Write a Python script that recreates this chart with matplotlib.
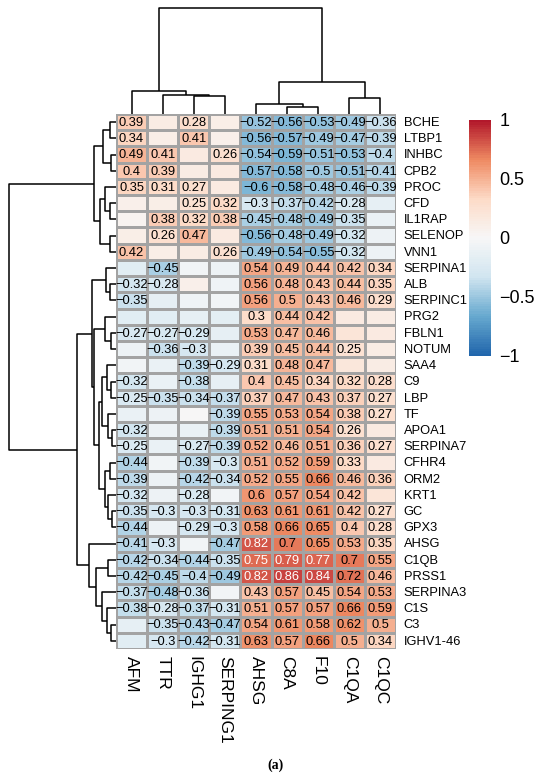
import matplotlib
matplotlib.use("Agg")
import matplotlib.pyplot as plt
import numpy as np
from matplotlib.colors import LinearSegmentedColormap, Normalize
from matplotlib.cm import ScalarMappable

plt.rcParams["font.family"] = ["Liberation Sans", "DejaVu Sans"]

# proteins (rows) and correlated proteins (columns)
row_labels = [
  "BCHE", "LTBP1", "INHBC", "CPB2", "PROC", "CFD", "IL1RAP", "SELENOP", "VNN1",
  "SERPINA1", "ALB", "SERPINC1", "PRG2", "FBLN1", "NOTUM", "SAA4", "C9", "LBP",
  "TF", "APOA1", "SERPINA7", "CFHR4", "ORM2", "KRT1", "GC", "GPX3",
  "AHSG", "C1QB", "PRSS1", "SERPINA3", "C1S", "C3", "IGHV1-46",
]
col_labels = ["AFM", "TTR", "IGHG1", "SERPING1", "AHSG", "C8A", "F10", "C1QA", "C1QC"]

# correlation values per column (blank cells in the figure are |r| < 0.25)
afm = [0.39, 0.34, 0.49, 0.4, 0.35, 0.08, 0.05, 0.1, 0.42,
       -0.2, -0.32, -0.35, -0.2, -0.27, -0.1, -0.05, -0.32, -0.25,
       -0.12, -0.32, -0.25, -0.44, -0.39, -0.32, -0.35, -0.44,
       -0.41, -0.42, -0.42, -0.37, -0.38, -0.15, -0.2]
ttr = [0.12, 0.1, 0.41, 0.39, 0.31, 0.1, 0.38, 0.26, 0.1,
       -0.45, -0.28, -0.15, -0.2, -0.27, -0.36, -0.12, -0.12, -0.35,
       -0.1, -0.1, -0.12, -0.05, -0.1, -0.1, -0.3, -0.1,
       -0.3, -0.34, -0.45, -0.48, -0.28, -0.35, -0.3]
ighg1 = [0.28, 0.41, 0.15, 0.12, 0.27, 0.25, 0.32, 0.47, 0.12,
         -0.05, 0.08, -0.08, -0.15, -0.29, -0.3, -0.39, -0.38, -0.34,
         0.0, -0.12, -0.27, -0.39, -0.42, -0.28, -0.3, -0.29,
         -0.05, -0.44, -0.4, -0.36, -0.37, -0.43, -0.42]
serping1 = [0.1, 0.08, 0.26, 0.15, 0.14, 0.32, 0.38, 0.15, 0.26,
            -0.1, -0.08, -0.05, -0.18, -0.15, -0.12, -0.29, -0.15, -0.37,
            -0.39, -0.39, -0.39, -0.3, -0.34, -0.05, -0.31, -0.3,
            -0.47, -0.35, -0.49, -0.05, -0.31, -0.47, -0.31]
ahsg = [-0.52, -0.56, -0.54, -0.57, -0.6, -0.3, -0.45, -0.56, -0.49,
        0.54, 0.56, 0.56, 0.3, 0.53, 0.39, 0.31, 0.4, 0.37,
        0.55, 0.51, 0.52, 0.51, 0.52, 0.6, 0.63, 0.58,
        0.82, 0.75, 0.82, 0.43, 0.51, 0.54, 0.63]
c8a = [-0.56, -0.57, -0.59, -0.58, -0.58, -0.37, -0.48, -0.48, -0.54,
       0.49, 0.48, 0.5, 0.44, 0.47, 0.45, 0.48, 0.45, 0.47,
       0.53, 0.51, 0.46, 0.52, 0.55, 0.57, 0.61, 0.66,
       0.7, 0.79, 0.86, 0.57, 0.57, 0.61, 0.57]
f10 = [-0.53, -0.49, -0.51, -0.5, -0.48, -0.42, -0.49, -0.49, -0.55,
       0.44, 0.43, 0.43, 0.42, 0.46, 0.44, 0.47, 0.34, 0.43,
       0.54, 0.54, 0.51, 0.59, 0.66, 0.54, 0.61, 0.65,
       0.65, 0.77, 0.84, 0.45, 0.57, 0.58, 0.66]
c1qa = [-0.49, -0.47, -0.53, -0.51, -0.46, -0.28, -0.35, -0.32, -0.32,
        0.42, 0.44, 0.46, 0.15, 0.2, 0.25, 0.18, 0.32, 0.37,
        0.38, 0.26, 0.36, 0.33, 0.46, 0.42, 0.42, 0.4,
        0.53, 0.7, 0.72, 0.54, 0.66, 0.62, 0.5]
c1qc = [-0.36, -0.39, -0.4, -0.41, -0.39, -0.15, -0.12, -0.1, -0.1,
        0.34, 0.35, 0.29, 0.12, 0.15, 0.12, 0.12, 0.28, 0.27,
        0.27, 0.15, 0.27, 0.15, 0.36, 0.2, 0.27, 0.28,
        0.35, 0.55, 0.46, 0.53, 0.59, 0.5, 0.34]

# clustering trees: (merge height, left, right), heights in pixels of the drawing
col_tree = (105.7,
            (23, "AFM", (18.7, "TTR", (18, "IGHG1", "SERPING1"))),
            (32.3, (10.3, "AHSG", (7.3, "C8A", "F10")), (16, "C1QA", "C1QC")))
row_tree = (106.7,
            (21.7,
             (12.7, (6, "BCHE", "LTBP1"), (5, "INHBC", "CPB2")),
             (16, (11, "PROC", (6, "CFD", "IL1RAP")), (6, "SELENOP", "VNN1"))),
            (38.7,
             (24.3,
              (10, "SERPINA1", (6, "ALB", "SERPINC1")),
              (22,
               (11, "PRG2", (5, "FBLN1", "NOTUM")),
               (17,
                (14, (9, "SAA4", (5, "C9", "LBP")), (8, "TF", (4, "APOA1", "SERPINA7"))),
                (11, (6, "CFHR4", "ORM2"), (8, "KRT1", (4, "GC", "GPX3")))))),
             (26.7, "AHSG",
              (20, (8, "C1QB", "PRSS1"),
               (14, "SERPINA3", (9, "C1S", (5, "C3", "IGHV1-46")))))))

ramp = ["#2166AC", "#67A9CF", "#D1E5F0", "#F7F7F7", "#FDDBC7", "#EF8A62", "#B2182B"]


def _layout(node, leaf_pos):
  if isinstance(node, str):
    return leaf_pos[node], 0.0, []
  h, left, right = node
  pl, hl, sl = _layout(left, leaf_pos)
  pr, hr, sr = _layout(right, leaf_pos)
  links = sl + sr + [([pl, pl, pr, pr], [hl, h, h, hr])]
  return (pl + pr) / 2, h, links


def _fmt(v: float) -> str:
  s = f"{abs(v):g}"
  return ("\u2212" + s) if v < 0 else s


W, H = 550, 781
fig = plt.figure(figsize=(W / 100, H / 100), dpi=100)


def px_axes(x0, y0, x1, y1):
  return fig.add_axes([x0 / W, 1 - y1 / H, (x1 - x0) / W, (y1 - y0) / H])


hm_l, hm_r, hm_t, hm_b = 116, 396, 114, 649
data = np.array([afm, ttr, ighg1, serping1, ahsg, c8a, f10, c1qa, c1qc]).T
n_rows, n_cols = data.shape
cmap = LinearSegmentedColormap.from_list("rdbu7", ramp, N=100)
norm = Normalize(vmin=-1, vmax=1)

# colour legend (added first so row labels stay on top)
axc = px_axes(469, 120, 491, 356)
cb = fig.colorbar(ScalarMappable(norm=norm, cmap=cmap), cax=axc)
cb.outline.set_visible(False)
cb.set_ticks([1, 0.5, 0, -0.5, -1])
cb.set_ticklabels(["1", "0.5", "0", "\u22120.5", "\u22121"])
axc.tick_params(length=0, labelsize=13, pad=6)

ax = px_axes(hm_l, hm_t, hm_r, hm_b)
ax.patch.set_visible(False)
ax.pcolormesh(np.arange(n_cols + 1), np.arange(n_rows + 1), data, cmap=cmap,
              norm=norm, edgecolors="#a3a3a3", linewidth=0.8)
ax.set_xlim(0, n_cols)
ax.set_ylim(n_rows, 0)
ax.set_xticks([])
ax.set_yticks([])
for s in ax.spines.values():
  s.set_visible(False)

for i in range(n_rows):
  for j in range(n_cols):
    v = data[i, j]
    if abs(v) >= 0.25:
      ax.text(j + 0.5, i + 0.55, _fmt(v), ha="center", va="center", fontsize=9.3,
              color="white" if v >= 0.75 else "black")

for i, name in enumerate(row_labels):
  ax.text(n_cols + 0.25, i + 0.55, name, ha="left", va="center", fontsize=9.3,
          clip_on=False)
for j, name in enumerate(col_labels):
  ax.text(j + 0.5, n_rows + 0.45, name, ha="center", va="top", rotation=270,
          fontsize=12.5, clip_on=False)

# column dendrogram
axt = px_axes(hm_l, 4, hm_r, hm_t)
_, _, links = _layout(col_tree, {n: i + 0.5 for i, n in enumerate(col_labels)})
for xs, ys in links:
  axt.plot(xs, ys, color="black", lw=1.1, solid_capstyle="butt")
axt.set_xlim(0, n_cols)
axt.set_ylim(0, hm_t - 4)
axt.axis("off")

# row dendrogram
axl = px_axes(5, hm_t, hm_l, hm_b)
_, _, links = _layout(row_tree, {n: i + 0.5 for i, n in enumerate(row_labels)})
for ps, hs in links:
  axl.plot(hs, ps, color="black", lw=1.1, solid_capstyle="butt")
axl.set_xlim(hm_l - 5, 0)
axl.set_ylim(n_rows, 0)
axl.axis("off")

fig.text(275 / W, 1 - 765 / H, "(a)", ha="center", va="center", fontsize=10,
         fontweight="bold", family=["Liberation Serif", "DejaVu Serif"])

fig.savefig("out.png", dpi=100)
